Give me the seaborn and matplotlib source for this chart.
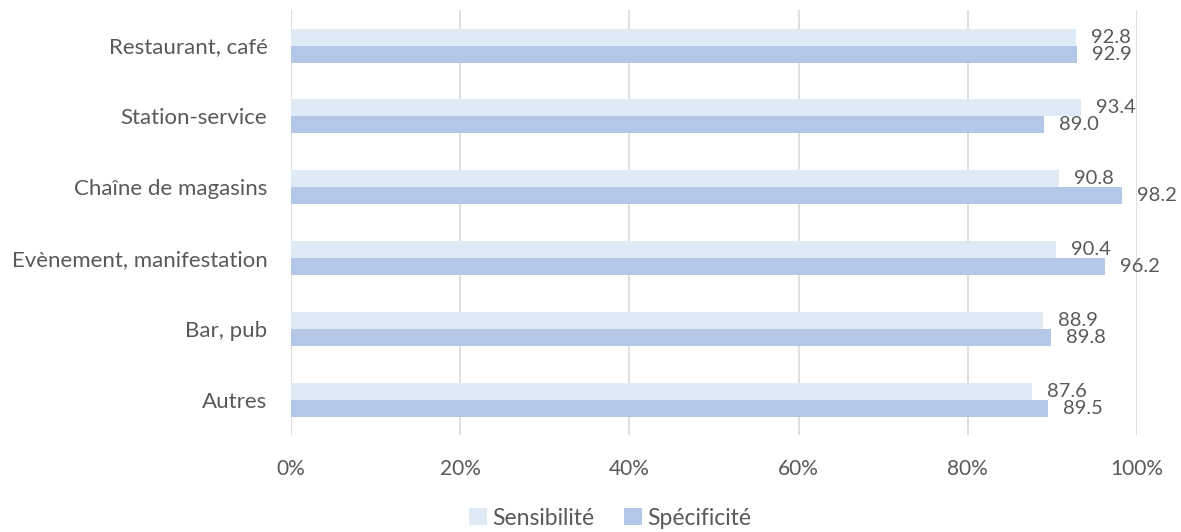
import pandas as pd
import matplotlib
matplotlib.use("Agg")
import matplotlib.pyplot as plt
import seaborn as sns

# data
categories = ["Restaurant, café", "Station-service", "Chaîne de magasins",
              "Evènement, manifestation", "Bar, pub", "Autres"]
sensibilite = [92.8, 93.4, 90.8, 90.4, 88.9, 87.6]
specificite = [92.9, 89.0, 98.2, 96.2, 89.8, 89.5]
series_names = ["Sensibilité", "Spécificité"]
tick_values = [0, 20, 40, 60, 80, 100]

df = pd.DataFrame({
    "lieu": categories * 2,
    "serie": [series_names[0]] * len(categories) + [series_names[1]] * len(categories),
    "valeur": sensibilite + specificite,
})

sns.set_theme(style="white")
plt.rcParams["font.family"] = ["Lato", "DejaVu Sans"]
text_col = "#595959"

fig = plt.figure(figsize=(11.81, 5.32), dpi=100)
ax = fig.add_axes([0.2464, 0.182, 0.7163, 0.799])

sns.barplot(data=df, y="lieu", x="valeur", hue="serie", order=categories,
            hue_order=series_names, palette=["#DEEAF6", "#B4C7E7"],
            width=0.48, saturation=1, linewidth=0, ax=ax, legend=True)

# value labels at the end of each bar
for cont in ax.containers:
    ax.bar_label(cont, fmt="%.1f", padding=11, fontsize=14.5, color=text_col)

ax.set_xlim(0, 100)
ax.set_xticks(tick_values)
ax.set_xticklabels([f"{t}%" for t in tick_values])
ax.xaxis.grid(True, color="#D9D9D9", linewidth=1.2)
ax.set_axisbelow(True)
for s in ax.spines.values():
    s.set_visible(False)
ax.set_xlabel("")
ax.set_ylabel("")
ax.tick_params(axis="both", length=0, labelcolor=text_col)
ax.tick_params(axis="x", pad=17, labelsize=15)
ax.tick_params(axis="y", pad=17, labelsize=16)

ax.get_legend().remove()
handles, labels = ax.get_legend_handles_labels()
fig.legend(handles, labels, loc="center", bbox_to_anchor=(610 / 1181, 0.026),
           ncol=2, frameon=False, fontsize=16.5, handlelength=0.8, handleheight=0.8,
           handletextpad=0.2, columnspacing=1.3, labelcolor=text_col)

fig.savefig("out.png", dpi=100)
